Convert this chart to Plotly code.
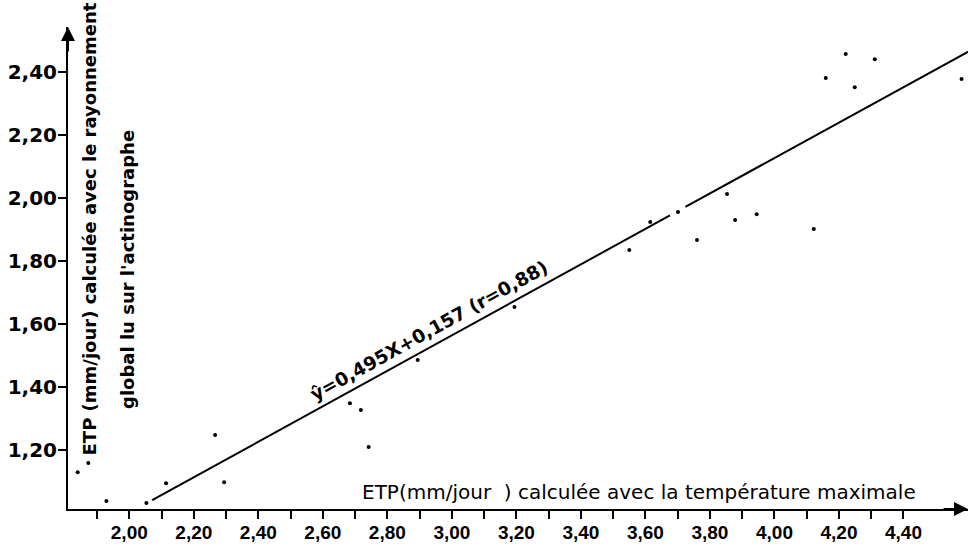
import plotly.graph_objects as go

# Observations: ETP from max temperature (x) vs ETP from actinograph radiation (y)
etp_temp = [1.840, 1.873, 1.929, 2.053, 2.114, 2.266, 2.294,
            2.684, 2.718, 2.742, 2.894, 3.194,
            3.550, 3.615, 3.701, 3.760, 3.853, 3.878, 3.945, 4.122,
            4.159, 4.221, 4.249, 4.311, 4.580]
etp_rad = [1.130, 1.159, 1.038, 1.032, 1.095, 1.248, 1.098,
           1.349, 1.327, 1.210, 1.486, 1.654,
           1.835, 1.924, 1.956, 1.867, 2.013, 1.930, 1.949, 1.902,
           2.381, 2.457, 2.352, 2.441, 2.378]

# Regression line as drawn (with a small break near x = 3.7)
fit_x = [2.071, 3.676, None, 3.724, 4.601]
fit_y = [1.041, 1.945, None, 1.972, 2.465]

x_tick_vals = [1.9, 2.0, 2.1, 2.2, 2.3, 2.4, 2.5, 2.6, 2.7, 2.8, 2.9, 3.0, 3.1,
               3.2, 3.3, 3.4, 3.5, 3.6, 3.7, 3.8, 3.9, 4.0, 4.1, 4.2, 4.3, 4.4]
x_tick_text = ["", "2,00", "", "2,20", "", "2,40", "", "2,60", "", "2,80", "", "3,00", "",
               "3,20", "", "3,40", "", "3,60", "", "3,80", "", "4,00", "", "4,20", "", "4,40"]
y_tick_vals = [1.2, 1.4, 1.6, 1.8, 2.0, 2.2, 2.4]
y_tick_text = ["1,20", "1,40", "1,60", "1,80", "2,00", "2,20", "2,40"]

x_range = [1.81, 4.60]
y_range = [1.013, 2.543]

fig = go.Figure()
fig.add_trace(go.Scatter(x=fit_x, y=fit_y, mode="lines",
                         line=dict(color="black", width=2), connectgaps=False,
                         hoverinfo="skip", showlegend=False))
fig.add_trace(go.Scatter(x=etp_temp, y=etp_rad, mode="markers",
                         marker=dict(color="black", size=4),
                         cliponaxis=False, showlegend=False))

fig.update_xaxes(range=x_range, showgrid=False, zeroline=False,
                 showline=True, linecolor="black", linewidth=2,
                 ticks="outside", ticklen=8, tickwidth=2, tickcolor="black",
                 tickvals=x_tick_vals, ticktext=x_tick_text, ticklabelstandoff=-3,
                 tickfont=dict(family="Liberation Sans", size=19, color="black", weight="bold"))
fig.update_yaxes(range=y_range, showgrid=False, zeroline=False,
                 showline=True, linecolor="black", linewidth=2,
                 ticks="outside", ticklen=8, tickwidth=2, tickcolor="black",
                 tickvals=y_tick_vals, ticktext=y_tick_text, ticklabelstandoff=-3,
                 tickfont=dict(family="DejaVu Sans", size=20, color="black", weight="bold"))

annotations = [
    # axis arrowheads
    dict(x=x_range[1], y=y_range[0], xref="x", yref="y", ax=-26, ay=0,
         showarrow=True, arrowhead=2, arrowsize=1.4, arrowwidth=2, arrowcolor="black", text=""),
    dict(x=x_range[0], y=y_range[1], xref="x", yref="y", ax=0, ay=26,
         showarrow=True, arrowhead=2, arrowsize=1.4, arrowwidth=2, arrowcolor="black", text=""),
    # x title
    dict(x=0.634, y=0.035, xref="paper", yref="paper", xanchor="center", yanchor="middle",
         showarrow=False,
         text="ETP(mm/jour\u00a0\u00a0) calculée avec la température maximale",
         font=dict(family="DejaVu Sans", size=20, color="black")),
    # y title lines
    dict(x=0.0244, y=0.582, xref="paper", yref="paper", xanchor="center", yanchor="middle",
         showarrow=False, textangle=-90,
         text="<b>ETP (mm/jour) calculée avec le rayonnement</b>",
         font=dict(family="DejaVu Sans", size=18, color="black")),
    dict(x=0.0667, y=0.496, xref="paper", yref="paper", xanchor="center", yanchor="middle",
         showarrow=False, textangle=-90,
         text="<b>global lu sur l'actinographe</b>",
         font=dict(family="DejaVu Sans", size=18, color="black")),
    # equation
    dict(x=2.930, y=1.580, xref="x", yref="y", xanchor="center", yanchor="middle",
         showarrow=False, textangle=-29,
         text="<b>ŷ=0,495X+0,157 (r=0,88)</b>",
         font=dict(family="DejaVu Sans", size=18.5, color="black")),
]

fig.update_layout(width=970, height=548, margin=dict(l=68, r=2, t=27, b=39),
                  plot_bgcolor="white", paper_bgcolor="white",
                  annotations=annotations, showlegend=False)

fig.write_html("out.html")
